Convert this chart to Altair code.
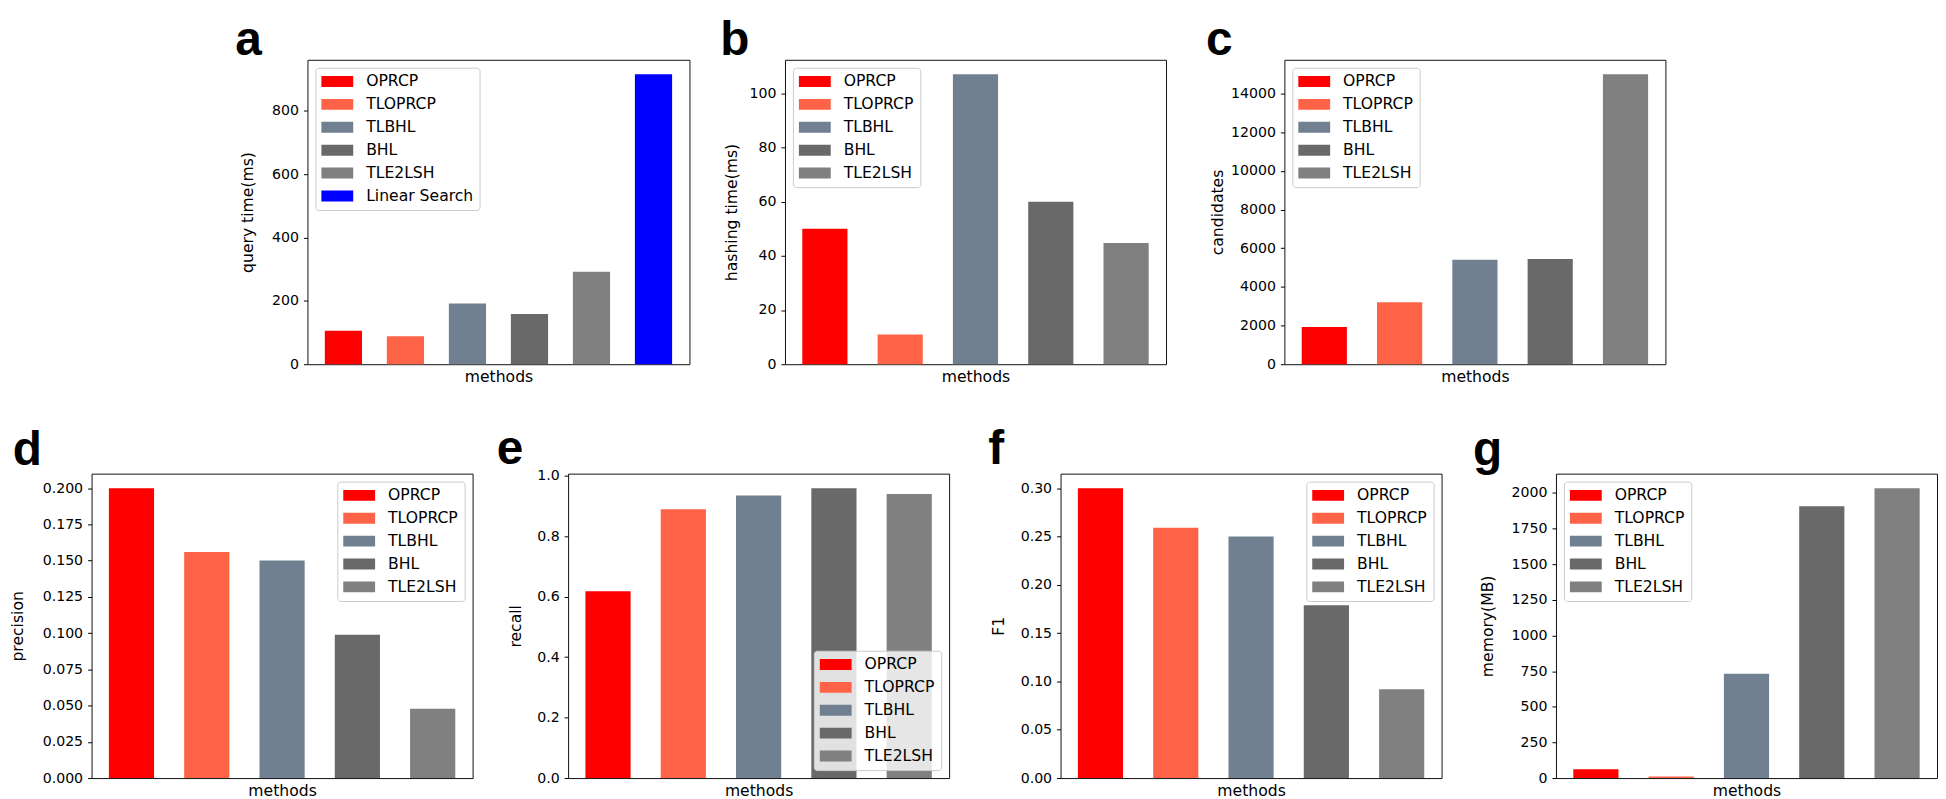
import altair as alt
import pandas as pd

FONT = "DejaVu Sans"

methods5 = ["OPRCP", "TLOPRCP", "TLBHL", "BHL", "TLE2LSH"]
methods6 = ["OPRCP", "TLOPRCP", "TLBHL", "BHL", "TLE2LSH", "Linear Search"]
colors6 = ["#ff0000", "#ff6347", "#708090", "#696969", "#808080", "#0000ff"]

query_time = [106, 88, 192, 159, 292, 916]
hashing_time = [50, 11, 107, 60, 44.7]
candidates = [1930, 3206, 5405, 5439, 15000]
precision = [0.200, 0.156, 0.150, 0.0988, 0.0478]
recall = [0.618, 0.889, 0.935, 0.959, 0.940]
f1_score = [0.300, 0.259, 0.250, 0.1787, 0.0919]
memory = [61, 11, 732, 1907, 2034]

ticks_a = [0, 200, 400, 600, 800]
ticks_b = [0, 20, 40, 60, 80, 100]
ticks_c = [0, 2000, 4000, 6000, 8000, 10000, 12000, 14000]
ticks_d = [0.0, 0.025, 0.05, 0.075, 0.1, 0.125, 0.15, 0.175, 0.2]
ticks_e = [0.0, 0.2, 0.4, 0.6, 0.8, 1.0]
ticks_f = [0.0, 0.05, 0.1, 0.15, 0.2, 0.25, 0.3]
ticks_g = [0, 250, 500, 750, 1000, 1250, 1500, 1750, 2000]

panel_letters = ["a", "b", "c", "d", "e", "f", "g"]
y_titles = ["query time(ms)", "hashing time(ms)", "candidates", "precision",
            "recall", "F1", "memory(MB)"]

# legend patch: wide rectangle (sized so the entry row height follows the font)
PATCH = "M-1.0467,-0.733L3.22,-0.733L3.22,0.733L-1.0467,0.733Z"


def panel(letter, lx, ly, ytitle, tpad, methods, values, yticks, fmt, orient, w, h):
    n = len(methods)
    df = pd.DataFrame({"method": methods, "value": values})
    top = max(values) * 1.05
    bars = alt.Chart(df).mark_bar().encode(
        x=alt.X("method:N", sort=methods, title="methods",
                scale=alt.Scale(paddingInner=0.4, paddingOuter=0.05 * (n - 0.4)),
                axis=alt.Axis(labels=False, ticks=False, domain=False,
                              titlePadding=5.5, minExtent=0, maxExtent=0)),
        y=alt.Y("value:Q", title=ytitle,
                scale=alt.Scale(domain=[0, top], nice=False, zero=True),
                axis=alt.Axis(values=yticks, format=fmt, titlePadding=tpad)),
        color=alt.Color("method:N", sort=methods,
                        scale=alt.Scale(domain=methods, range=colors6[:n]),
                        legend=alt.Legend(title=None, orient=orient)),
    )
    lab = alt.Chart(pd.DataFrame({"letter": [letter]})).mark_text(
        font="Liberation Sans", fontSize=48, fontWeight="bold",
        align="left", baseline="alphabetic", color="black"
    ).encode(text="letter:N", x=alt.value(lx), y=alt.value(ly))
    return alt.layer(bars, lab).properties(width=w, height=h)


def spacer(w):
    return alt.Chart(pd.DataFrame({"v": [0]})).mark_point(opacity=0).encode(
        x=alt.value(0), y=alt.value(0)
    ).properties(width=w, height=10, view=alt.ViewBackground(stroke="transparent"))


H = 306
pa = panel("a", -72.6, -4.6, y_titles[0], 16.5, methods6, query_time, ticks_a, "d", "top-left", 384, H)
pb = panel("b", -65, -4.6, y_titles[1], 9.6, methods5, hashing_time, ticks_b, "d", "top-left", 383, H)
pc = panel("c", -78.7, -4.6, y_titles[2], 5.2, methods5, candidates, ticks_c, "d", "top-left", 383, H)
pd_ = panel("d", -79.3, -9, y_titles[3], 17.3, methods5, precision, ticks_d, ".3f", "top-right", 383, H)
pe = panel("e", -71.6, -10, y_titles[4], 13.7, methods5, recall, ticks_e, ".1f", "bottom-right", 383, H)
pf = panel("f", -72.7, -9.5, y_titles[5], 13.7, methods5, f1_score, ticks_f, ".2f", "top-right", 383, H)
pg = panel("g", -83.5, -9, y_titles[6], 15.3, methods5, memory, ticks_g, "d", "top-left", 383, H)

row1 = alt.hconcat(spacer(217), pa, spacer(96), pb, spacer(119), pc, spacing=0, bounds="flush"
                   ).resolve_scale(color="independent").resolve_legend(color="independent")
row2 = alt.hconcat(pd_, spacer(96), pe, spacer(112), pf, spacer(115), pg, spacing=0, bounds="flush"
                   ).resolve_scale(color="independent").resolve_legend(color="independent")

chart = alt.vconcat(row1, row2, spacing=40).resolve_scale(color="independent").resolve_legend(
    color="independent"
).properties(padding={"left": 0, "top": 6, "right": 0, "bottom": 0}).configure_view(
    stroke="#111111", strokeWidth=1
).configure_axis(
    grid=False, domain=False,
    labelFont=FONT, labelFontSize=14.2, labelColor="black", labelPadding=5,
    titleFont=FONT, titleFontSize=15.7, titleFontWeight="normal", titleColor="black",
    tickColor="black", tickSize=4, tickWidth=1,
).configure_legend(
    fillColor="rgba(255,255,255,0.8)", strokeColor="#cccccc", cornerRadius=3,
    padding=6, offset=8, labelFont=FONT, labelFontSize=15.7, labelColor="black",
    rowPadding=6, labelOffset=29.3, symbolSize=225, symbolStrokeWidth=0,
    symbolType=PATCH, symbolOpacity=1,
)

chart.save("out.html", embed_options={"renderer": "svg", "actions": False})
